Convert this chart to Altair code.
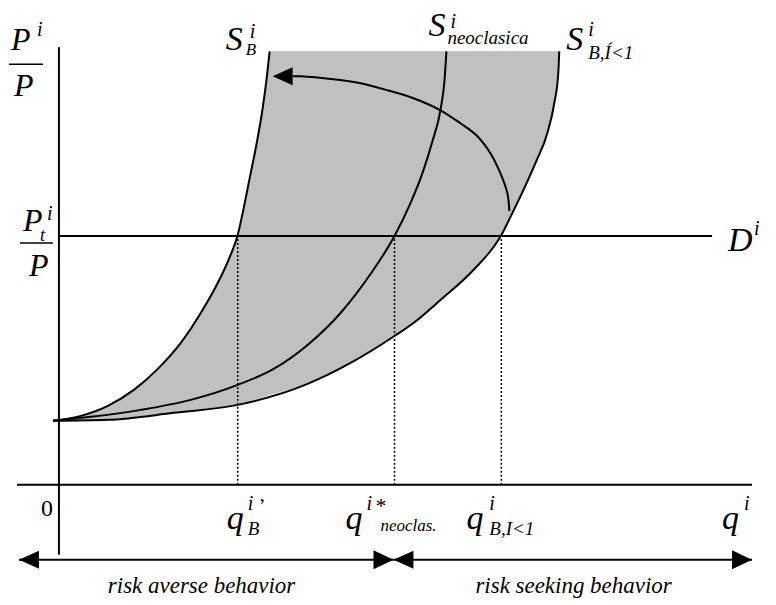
import altair as alt
import pandas as pd

# ---- values (q = quantity, p = relative price) ----
sb_q = [-6, 22, 49, 75, 99, 122, 142, 159, 171, 179, 185, 191, 198, 204, 208, 211]
sb_p = [64, 69, 79, 95, 116, 142, 172, 202, 228, 250, 277, 307, 342, 377, 407, 434]

neo_q = [-6, 32, 82, 132, 179, 215, 249, 282, 312, 336, 352, 364, 374, 382, 386, 388]
neo_p = [64, 68, 75, 85, 100, 116, 140, 172, 211, 249, 282, 312, 344, 375, 404, 434]

bi_q = [-6, 49, 115, 179, 249, 292, 336, 355, 382, 415, 443, 454, 466, 478, 489, 496, 500, 501]
bi_p = [64, 65, 72, 80, 101, 122, 149, 162, 185, 215, 250, 272, 297, 324, 352, 382, 412, 434]

arrow_q = [451, 449, 442, 432, 419, 402, 382, 355, 329, 302, 275, 242, 234]
arrow_p = [274, 292, 312, 332, 349, 362, 375, 387, 395, 402, 406, 409, 409]

demand_p = 249
demand_q_end = 654
eq_q = [179, 336, 443]          # q_B', q*_neoclas., q_B,I<1
axis_q = [-42, 694]
axis_p = [-70, 438]
band_p = -75
band_q = [-40, 335, 694]

FONT = "Liberation Serif"

XS = alt.Scale(domain=[-50, 710], nice=False, zero=False)
YS = alt.Scale(domain=[-115, 474], nice=False, zero=False)


def X(f):
    return alt.X(f, type="quantitative", scale=XS, axis=None)


def Y(f):
    return alt.Y(f, type="quantitative", scale=YS, axis=None)


# shaded region: S_B upward, then S_B,I<1 back down
poly_q = sb_q + bi_q[::-1]
poly_p = sb_p + bi_p[::-1]
poly = pd.DataFrame({"q": poly_q, "p": poly_p, "i": list(range(len(poly_q)))})
shade = alt.Chart(poly).mark_line(fill="#c0c0c0", strokeWidth=0, interpolate="linear").encode(
    x=X("q"), y=Y("p"), order=alt.Order("i:Q"))

curves = []
for qs, ps in [(sb_q, sb_p), (neo_q, neo_p), (bi_q, bi_p)]:
    d = pd.DataFrame({"q": qs, "p": ps})
    curves.append(alt.Chart(d).mark_line(color="black", strokeWidth=2, interpolate="monotone").encode(
        x=X("q"), y=Y("p")))

arr = pd.DataFrame({"q": arrow_q, "p": arrow_p, "i": list(range(len(arrow_q)))})
arrow_line = alt.Chart(arr).mark_line(color="black", strokeWidth=2, interpolate="catmull-rom").encode(
    x=X("q"), y=Y("p"), order=alt.Order("i:Q"))

# straight lines
hlines = pd.DataFrame({
    "q": [axis_q[0], 0, band_q[0], band_q[1]],
    "q2": [axis_q[1], demand_q_end, band_q[1], band_q[2]],
    "p": [0, demand_p, band_p, band_p],
})
hrules = alt.Chart(hlines).mark_rule(color="black", strokeWidth=2).encode(
    x=X("q"), x2="q2", y=Y("p"))
vaxis = alt.Chart(pd.DataFrame({"q": [0], "p": [axis_p[0]], "p2": [axis_p[1]]})).mark_rule(
    color="black", strokeWidth=2).encode(x=X("q"), y=Y("p"), y2="p2")
dots = alt.Chart(pd.DataFrame({"q": eq_q, "p": [0] * 3, "p2": [demand_p] * 3})).mark_rule(
    color="black", strokeWidth=1.5, strokeDash=[2, 2]).encode(x=X("q"), y=Y("p"), y2="p2")

# fraction bars
bars = alt.Chart(pd.DataFrame({"q": [-50, -39], "q2": [-16, -6], "p": [421, 242]})).mark_rule(
    color="black", strokeWidth=1.5).encode(x=X("q"), x2="q2", y=Y("p"))

# arrowheads
LEFT = "M-1,0L1,-0.9L1,0.9Z"
RIGHT = "M1,0L-1,-0.95L-1,0.95Z"
heads_l = pd.DataFrame({"q": [224, -30, 345], "p": [409, band_p, band_p]})
heads_r = pd.DataFrame({"q": [325, 684], "p": [band_p, band_p]})
hl = alt.Chart(heads_l).mark_point(shape=LEFT, filled=True, color="black", opacity=1, size=400).encode(
    x=X("q"), y=Y("p"))
hr = alt.Chart(heads_r).mark_point(shape=RIGHT, filled=True, color="black", opacity=1, size=400).encode(
    x=X("q"), y=Y("p"))

# labels
it_text = ["P", "i", "P",
           "P", "i", "t", "P",
           "S", "i", "B",
           "S", "i", "neoclasica",
           "S", "i", "B,Í<1",
           "D", "i",
           "q", "i", "B",
           "q", "i", "neoclas.",
           "q", "i", "B,I<1",
           "q", "i",
           "risk averse behavior", "risk seeking behavior"]
it_q = [-48, -22, -45,
        -36, -12, -19, -30,
        167, 191, 187,
        370, 392, 389,
        508, 530, 530,
        670, 696,
        168, 189, 189,
        287, 308, 322,
        408, 431, 431,
        664, 686,
        49, 417]
it_p = [435, 449, 389,
        254, 265, 244, 209,
        435, 447, 430,
        449, 457, 441,
        435, 449, 426,
        234, 250,
        -44, -25, -50,
        -44, -25, -46,
        -44, -25, -50,
        -44, -25,
        -108, -108]
it_size = [32, 20, 32,
           32, 20, 18, 32,
           34, 20, 17,
           34, 20, 19,
           34, 20, 19,
           34, 20,
           34, 20, 19,
           34, 20, 17,
           34, 20, 19,
           34, 20,
           23, 23]
up_text = ["0", "’", "*"]
up_q = [-18, 200, 317]
up_p = [-31, -28, -28]
up_size = [24, 20, 22]

texts = []
for t, q, p, s in zip(it_text, it_q, it_p, it_size):
    d = pd.DataFrame({"q": [q], "p": [p], "t": [t]})
    texts.append(alt.Chart(d).mark_text(font=FONT, fontStyle="italic", fontSize=s, align="left",
                                        baseline="alphabetic", color="black").encode(
        x=X("q"), y=Y("p"), text="t:N"))
for t, q, p, s in zip(up_text, up_q, up_p, up_size):
    d = pd.DataFrame({"q": [q], "p": [p], "t": [t]})
    texts.append(alt.Chart(d).mark_text(font=FONT, fontSize=s, align="left",
                                        baseline="alphabetic", color="black").encode(
        x=X("q"), y=Y("p"), text="t:N"))

chart = alt.layer(shade, *curves, arrow_line, hrules, vaxis, dots, bars, hl, hr, *texts).properties(
    width=760, height=589, padding=0
).configure_view(strokeWidth=0)

chart.save("out.html", embed_options={"renderer": "svg", "actions": False})
